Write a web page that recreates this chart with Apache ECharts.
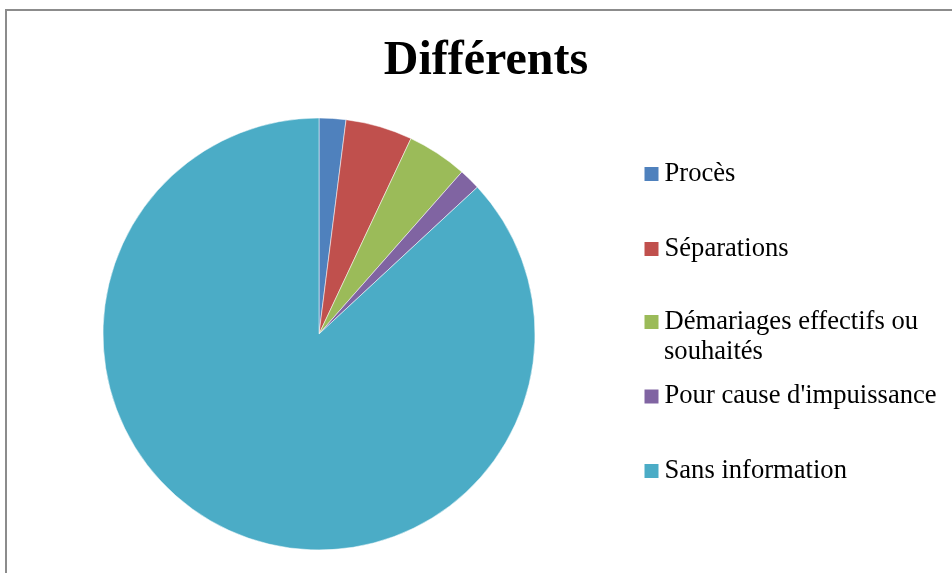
<!DOCTYPE html>
<html>
<head>
<meta charset="utf-8">
<script src="https://cdn.jsdelivr.net/npm/echarts@6/dist/echarts.min.js"></script>
<style>
html,body{margin:0;padding:0;background:#fff;}
#chart{width:952px;height:573px;}
</style>
</head>
<body>
<div id="chart"></div>
<script>
const titleText = 'Différents';
const categories = ['Procès', 'Séparations', 'Démariages effectifs ou souhaités', "Pour cause d'impuissance", 'Sans information'];
const values = [2.0, 5.0, 4.5, 1.6, 86.9];
const colors = ['#4F81BD', '#C0504D', '#9BBB59', '#8064A2', '#4BACC6'];

const chart = echarts.init(document.getElementById('chart'), null, {renderer: 'canvas'});
const font = '"Liberation Serif", "Times New Roman", serif';
const legendTops = [159, 234, 307, 381.5, 456];

const legends = categories.map((name, i) => ({
  data: [name],
  orient: 'vertical',
  left: 642.5,
  top: legendTops[i],
  padding: 0,
  itemWidth: 16,
  itemHeight: 16,
  itemGap: 0,
  icon: 'rect',
  selectedMode: false,
  formatter: n => (n === 'Démariages effectifs ou souhaités' ? 'Démariages effectifs ou' : n),
  textStyle: {fontFamily: font, fontSize: 26.6, lineHeight: 26, color: '#000', padding: [4, 0, 0, 0]}
}));

chart.setOption({
  animation: false,
  color: colors,
  title: {
    text: titleText,
    left: 481,
    top: 33,
    textAlign: 'center',
    textStyle: {fontFamily: font, fontSize: 48, fontWeight: 'bold', color: '#000'}
  },
  legend: legends,
  graphic: [
    {
      type: 'rect',
      shape: {x: 6, y: 10, width: 1000, height: 700},
      style: {fill: 'none', stroke: '#8c8c8c', lineWidth: 2},
      silent: true,
      z: -1
    },
    {
      type: 'text',
      left: 664,
      top: 339,
      style: {text: 'souhaités', font: '26.6px ' + font, fill: '#000'}
    }
  ],
  series: [{
    type: 'pie',
    center: [319, 334],
    radius: 216,
    startAngle: 90,
    clockwise: true,
    label: {show: false},
    labelLine: {show: false},
    itemStyle: {borderColor: '#fff', borderWidth: 0.5},
    emphasis: {disabled: true},
    data: categories.map((n, i) => ({name: n, value: values[i]}))
  }]
});
</script>
</body>
</html>
